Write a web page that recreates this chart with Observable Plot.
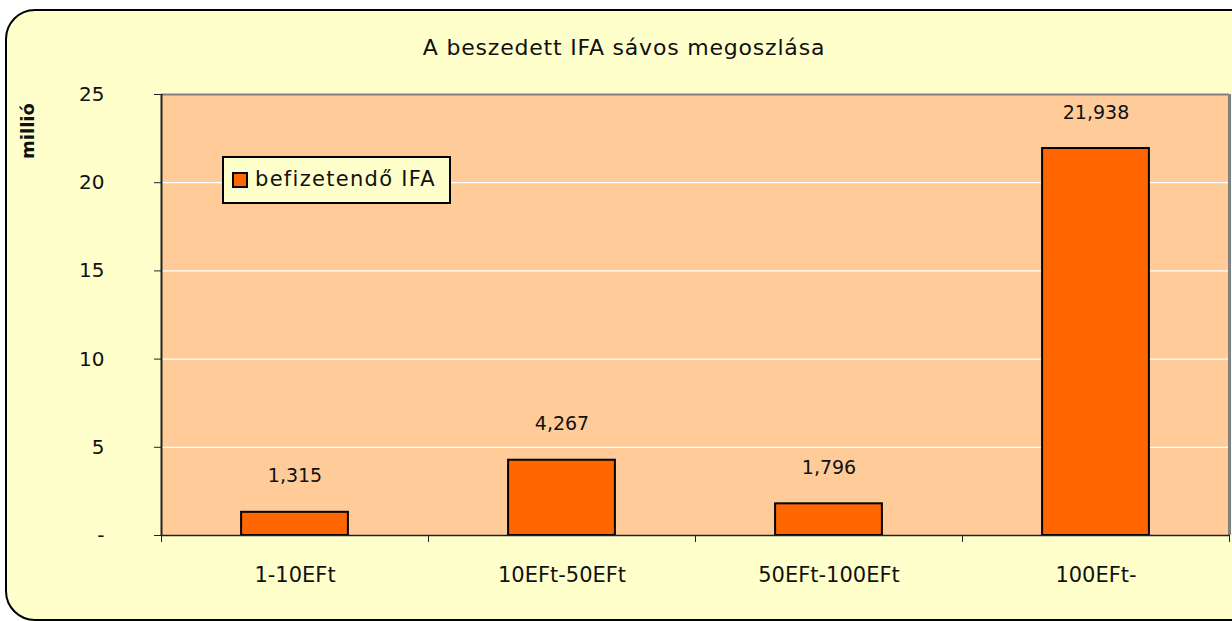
<!DOCTYPE html>
<html>
<head>
<meta charset="utf-8">
<script src="https://cdn.jsdelivr.net/npm/d3@7"></script>
<script src="https://cdn.jsdelivr.net/npm/@observablehq/plot@0.6"></script>
<style>
  html, body { margin: 0; padding: 0; background: #ffffff; width: 1232px; height: 621px; overflow: hidden; }
  body { position: relative; font-family: "DejaVu Sans", sans-serif; color: #111; }
  #box { position: absolute; left: 5px; top: 9px; width: 1260px; height: 612px; box-sizing: border-box;
         border: 2px solid #000; border-radius: 30px; background: #FFFFCC; }
  #chart { position: absolute; left: 0; top: 0; }
  #title { position: absolute; left: 0; width: 1248px; top: 35px; text-align: center; font-size: 22px; line-height: 26px; letter-spacing: 0.8px; }
  #ylab { position: absolute; left: 28px; top: 131px; transform: translate(-50%, -50%) rotate(-90deg);
          font-weight: bold; font-size: 18px; line-height: 20px; white-space: nowrap; }
  #legend { position: absolute; left: 222px; top: 156px; width: 229px; height: 48px; box-sizing: border-box;
            border: 2px solid #000; background: #FFFFCC; }
  #legend .sw { position: absolute; left: 8px; top: 14px; width: 16px; height: 16px; box-sizing: border-box;
                border: 2px solid #000; background: #FF6600; }
  #legend .lt { position: absolute; left: 31px; top: 8px; font-size: 21px; line-height: 26px; letter-spacing: 1.3px; white-space: nowrap; }
</style>
</head>
<body>
<div id="box"></div>
<div id="chart"></div>
<div id="title"></div>
<div id="ylab"></div>
<div id="legend"><div class="sw"></div><div class="lt"></div></div>
<script>
const titleText = "A beszedett IFA sávos megoszlása";
const yLabel = "millió";
const seriesName = "befizetendő IFA";
const categories = ["1-10EFt", "10EFt-50EFt", "50EFt-100EFt", "100EFt-"];
const values = [1.315, 4.267, 1.796, 21.938];
const yTicks = [0, 5, 10, 15, 20, 25];
const yTickLabels = ["-", "5", "10", "15", "20", "25"];

document.getElementById("title").textContent = titleText;
document.getElementById("ylab").textContent = yLabel;
document.querySelector("#legend .lt").textContent = seriesName;

const data = categories.map((c, i) => ({cat: c, idx: i, value: values[i]}));
const fmt = v => d3.format(",.3f")(v).replace(".", ",");
const font = "DejaVu Sans, sans-serif";

const plot = Plot.plot({
  width: 1232,
  height: 621,
  marginLeft: 161,
  marginRight: 3,
  marginTop: 94,
  marginBottom: 86,
  style: {background: "transparent", fontFamily: font, fontSize: "20px", color: "#111"},
  x: {type: "linear", domain: [0, categories.length], axis: null},
  y: {domain: [0, 25], axis: null},
  marks: [
    Plot.frame({fill: "#FFCC99", stroke: "none"}),
    Plot.ruleY(yTicks.filter(t => t > 0 && t < 25), {stroke: "#ffffff", strokeWidth: 1.2}),
    Plot.ruleY([25], {stroke: "#808080", strokeWidth: 2}),
    Plot.ruleX([categories.length], {stroke: "#808080", strokeWidth: 3}),
    Plot.rectY(data, {x1: d => d.idx + 0.3, x2: d => d.idx + 0.7, y: "value",
      fill: "#FF6600", stroke: "#000", strokeWidth: 2}),
    Plot.text(data, {x: d => d.idx + 0.5, y: "value", text: d => fmt(d.value),
      dy: -36, fontSize: 19, fill: "#111"}),
    Plot.ruleX([0], {stroke: "#222", strokeWidth: 2}),
    Plot.ruleY([0], {stroke: "#222", strokeWidth: 1.5}),
    Plot.axisY({ticks: yTicks, tickFormat: (d, i) => yTickLabels[yTicks.indexOf(d)], tickSize: 7,
      tickPadding: 50, fontSize: 20, stroke: "#222", label: null}),
    Plot.axisX({ticks: d3.range(categories.length + 1), tickFormat: () => "", tickSize: 7,
      stroke: "#222", label: null}),
    Plot.text(data, {x: d => d.idx + 0.5, text: "cat", frameAnchor: "bottom", dy: 40,
      fontSize: 21, fill: "#111", lineAnchor: "middle"})
  ]
});
document.getElementById("chart").appendChild(plot);
</script>
</body>
</html>
